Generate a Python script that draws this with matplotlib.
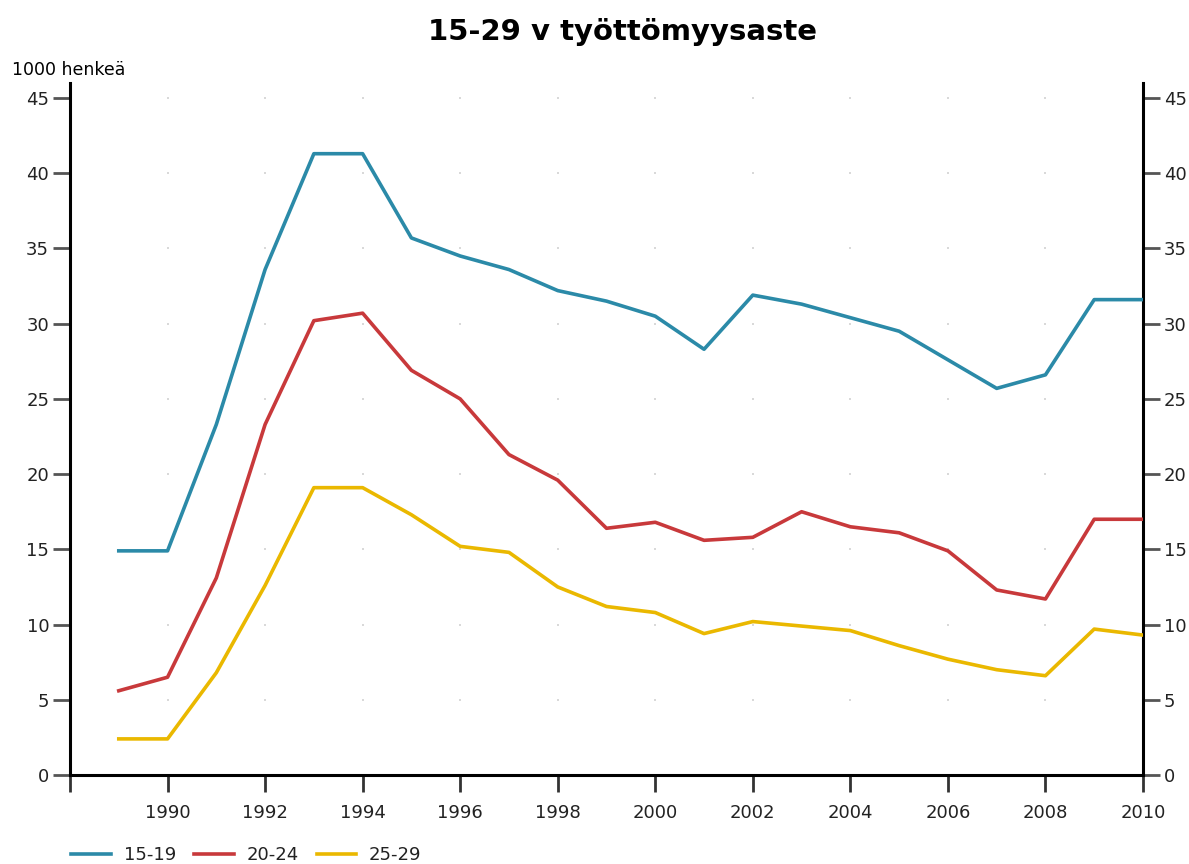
import numpy as np
import matplotlib.pyplot as plt

plt.rcParams['font.family'] = ['DejaVu Sans']

years = list(range(1989, 2011))
age_15_19 = [14.9, 14.9, 23.3, 33.6, 41.3, 41.3, 35.7, 34.5, 33.6, 32.2, 31.5,
             30.5, 28.3, 31.9, 31.3, 30.4, 29.5, 27.6, 25.7, 26.6, 31.6, 31.6]
age_20_24 = [5.6, 6.5, 13.1, 23.3, 30.2, 30.7, 26.9, 25.0, 21.3, 19.6, 16.4,
             16.8, 15.6, 15.8, 17.5, 16.5, 16.1, 14.9, 12.3, 11.7, 17.0, 17.0]
age_25_29 = [2.4, 2.4, 6.8, 12.6, 19.1, 19.1, 17.3, 15.2, 14.8, 12.5, 11.2,
             10.8, 9.4, 10.2, 9.9, 9.6, 8.6, 7.7, 7.0, 6.6, 9.7, 9.3]
labels = ['15-19', '20-24', '25-29']
colors = ['#2b8aa8', '#c8393b', '#eab800']

xticks = list(range(1988, 2011, 2))
xlabels = [''] + [str(y) for y in range(1990, 2011, 2)]
yticks = list(range(0, 46, 5))

fig = plt.figure(figsize=(11.89, 8.64), dpi=100)
ax = fig.add_axes([70/1189, 1 - 775/864, (1143-70)/1189, (775-83)/864])

# faint dotted grid at tick intersections
gx, gy = np.meshgrid(xticks[1:-1], yticks[1:])
ax.scatter(gx.ravel(), gy.ravel(), s=3.5, color='#d9d9d9', marker='s', linewidths=0, zorder=1)

for vals, lab, c in zip([age_15_19, age_20_24, age_25_29], labels, colors):
    ax.plot(years, vals, color=c, lw=2.6, label=lab, zorder=3)

ax.set_xlim(1988, 2010)
ax.set_ylim(0, 46)
ax.set_xticks(xticks)
ax.set_xticklabels(xlabels)
ax.set_yticks(yticks)

ax.spines['top'].set_visible(False)
for s in ['left', 'right', 'bottom']:
    ax.spines[s].set_linewidth(2.2)
    ax.spines[s].set_color('black')

ax.tick_params(axis='x', direction='out', length=12, width=2, color='#333333',
               labelsize=13, pad=9, labelcolor='#222222')
ax.tick_params(axis='y', which='both', direction='out', length=12, width=2, color='#555555',
               labelsize=13, right=True, labelright=True, pad=3, labelcolor='#222222')
for t in ax.yaxis.get_major_ticks():
    t.tick2line.set_markersize(9)
    t.set_pad(3)

fig.text(622/1189, 1 - 32/864, '15-29 v työttömyysaste', fontsize=21, fontweight='bold',
         ha='center', va='center')
fig.text(12/1189, 1 - 70/864, '1000 henkeä', fontsize=12.5, va='center', ha='left')

leg = ax.legend(loc='center left', bbox_to_anchor=(-0.014, -0.116), ncol=3, frameon=False,
                fontsize=13, handlelength=2.2, columnspacing=1.0, handletextpad=0.7,
                labelcolor='#222222')

fig.savefig('out.png', dpi=100)
